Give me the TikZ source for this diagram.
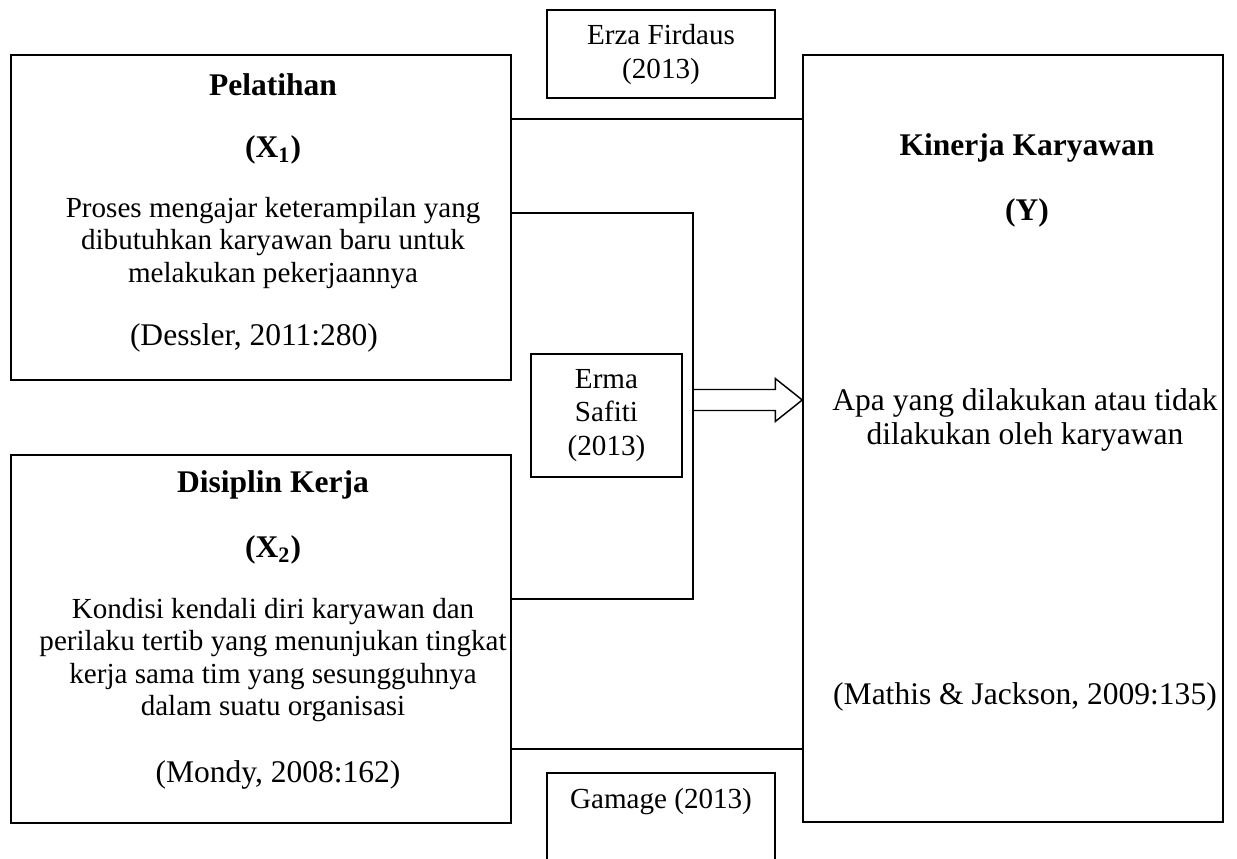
\documentclass[tikz,border=0pt]{standalone}
\usepackage{fontspec}
\setmainfont{Liberation Serif}
\usetikzlibrary{calc, positioning}

\begin{document}
\begin{tikzpicture}

% TikZ styles
\tikzset{
  varbox/.style={rectangle, draw=black, line width=0.6pt, inner sep=0pt},
  refbox/.style={rectangle, draw=black, line width=0.6pt, align=center, inner sep=0pt, font=\fontsize{12}{14}\selectfont},
  vartitle/.style={inner sep=0pt, font=\fontsize{13}{15}\selectfont\bfseries},
  vartext/.style={align=center, inner sep=0pt, font=\fontsize{12}{13.3}\selectfont},
  varcite/.style={inner sep=0pt, font=\fontsize{13}{15}\selectfont},
  link/.style={line width=0.6pt},
  hollow/.style={line width=0.6pt, line join=miter}
}

\useasboundingbox (0,0) rectangle (17.928,-12.449);
\clip (0,0) rectangle (17.928,-12.449);

%==========================
% Variabel X1, X2 dan Y
%==========================
\node[varbox, minimum width=7.246cm, minimum height=4.710cm] (pelatihan) at (3.783,-3.152) {};
\node[varbox, minimum width=7.246cm, minimum height=5.333cm] (disiplin) at (3.783,-9.261) {};
\node[varbox, minimum width=6.087cm, minimum height=11.116cm] (kinerja) at (14.681,-6.355) {};

\node[vartitle] (pelatihantitle) at (3.957,-1.232) {Pelatihan};
\node[vartitle] (xsatu) at (3.957,-2.174) {(X\textsubscript{1})};
\node[vartext] (pelatihandef) at (3.957,-3.522) {Proses mengajar keterampilan yang\\dibutuhkan karyawan baru untuk\\melakukan pekerjaannya};
\node[varcite] (dessler) at (3.681,-4.899) {(Dessler, 2011:280)};

\node[vartitle] (disiplintitle) at (3.957,-7.029) {Disiplin Kerja};
\node[vartitle] (xdua) at (3.957,-7.971) {(X\textsubscript{2})};
\node[vartext] (disiplindef) at (3.957,-9.565) {Kondisi kendali diri karyawan dan\\perilaku tertib yang menunjukan tingkat\\kerja sama tim yang sesungguhnya\\dalam suatu organisasi};
\node[varcite] (mondy) at (4.029,-11.232) {(Mondy, 2008:162)};

\node[vartitle] (kinerjatitle) at (14.884,-2.145) {Kinerja Karyawan};
\node[vartitle] (yvar) at (14.884,-3.087) {(Y)};
\node[vartext, font=\fontsize{13}{14}\selectfont] (kinerjadef) at (14.855,-6.087) {Apa yang dilakukan atau tidak\\dilakukan oleh karyawan};
\node[varcite] (mathis) at (14.855,-10.101) {(Mathis \& Jackson, 2009:135)};

%==========================
% Penelitian terdahulu
%==========================
\node[refbox, minimum width=3.304cm, minimum height=1.275cm] (erza) at (9.580,-0.783) {Erza Firdaus\\(2013)};
\node[refbox, minimum width=2.188cm, minimum height=1.783cm] (erma) at (8.790,-6.022) {Erma\\Safiti\\(2013)};
\node[refbox, minimum width=3.304cm, minimum height=1.84cm] (gamage) at (9.580,-12.123) {};
\node[inner sep=0pt, font=\fontsize{12}{14}\selectfont] (gamagetxt) at (9.580,-11.623) {Gamage (2013)};

% Garis penghubung
\coordinate (linkatas) at (7.406,-1.725);
\coordinate (linkbawah) at (7.406,-10.855);
\coordinate (bend) at (10.043,-3.087);
\coordinate (bendbawah) at (10.043,-8.681);
\coordinate (arrowtail) at (10.043,-5.797);

\draw[link] (linkatas) -- (linkatas -| kinerja.west);
\draw[link] (linkbawah) -- (linkbawah -| kinerja.west);
\draw[link] (pelatihan.east |- bend) -- (bend) -- (bendbawah) -- (disiplin.east |- bendbawah);

% Panah simultan
\draw[hollow] ($(arrowtail)+(0,0.152)$)
  -- ($(arrowtail -| kinerja.west)+(-0.391,0.152)$)
  -- ++(0,0.160)
  -- (arrowtail -| kinerja.west)
  -- ++(-0.391,-0.312)
  -- ++(0,0.160)
  -- ($(arrowtail)+(0,-0.152)$);

\end{tikzpicture}
\end{document}
